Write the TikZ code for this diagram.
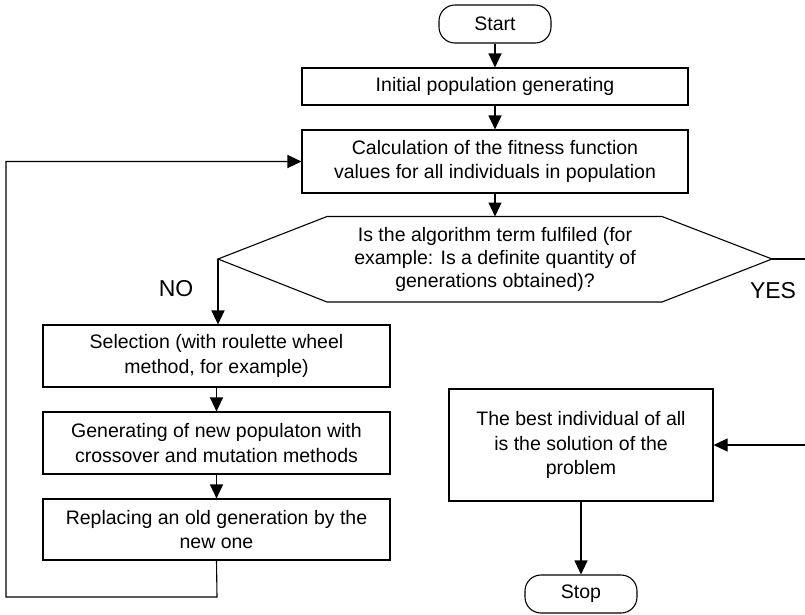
\documentclass[tikz,border=0pt]{standalone}
\usepackage{fontspec}
\setmainfont{Liberation Sans}
\usetikzlibrary{arrows.meta}
\begin{document}
\begin{tikzpicture}[x=1pt,y=-1pt,
  line width=1.1pt,
  every node/.style={font=\fontsize{19.5}{24.5}\selectfont, align=center, inner sep=0pt},
  box/.style={draw, rectangle, minimum width=#1},
  term/.style={draw, rectangle, rounded corners=16pt, minimum width=112pt, minimum height=38pt},
  arr/.style={-{Triangle[length=14pt,width=13pt]}},
  lbl/.style={font=\fontsize{23}{27}\selectfont}
]
\clip (0,0) rectangle (805,614);
\fill[white] (0,0) rectangle (805,614);

% nodes
\node[term] (start) at (495,24) {Start};
\node[box=386pt, minimum height=37pt] (init) at (495,86.5) {Initial population generating};
\node[box=386pt, minimum height=63pt] (calc) at (495,161.5) {Calculation of the fitness function\\values for all individuals in population};

% decision
\coordinate (dL) at (218,259);
\coordinate (dR) at (772,259);
\coordinate (dT) at (495,216.5);
\draw (dL) -- (327,216.5) -- (662,216.5) -- (dR) -- (662,302) -- (327,302) -- cycle;
\node[font=\fontsize{19.5}{23}\selectfont] (dec) at (495,259) {Is the algorithm term fulfiled (for\\example: Is a definite quantity of\\generations obtained)?};

\node[box=347pt, minimum height=62pt] (sel) at (216.5,356) {Selection (with roulette wheel\\method, for example)};
\node[box=347pt, minimum height=62pt] (gen) at (216.5,443) {Generating of new populaton with\\crossover and mutation methods};
\node[box=347pt, minimum height=61pt] (repl) at (216.5,529.5) {Replacing an old generation by the\\new one};

\node[box=264pt, minimum height=112pt] (best) at (581,445) {The best individual of all\\is the solution of the\\problem};
\node[term] (stop) at (581,594) {Stop};

\node[lbl] (no) at (176,289) {NO};
\node[lbl] (yes) at (773,291) {YES};

% connectors
\coordinate (loopA) at (217,597);
\coordinate (loopB) at (6,597);
\coordinate (loopC) at (6,161.5);
\coordinate (yesA) at (812,259);
\coordinate (yesB) at (812,445);

\draw[arr] (start) -- (init);
\draw[arr] (init) -- (calc);
\draw[arr] (calc) -- (dT);
\draw[arr] (dL) -- (dL |- sel.north);
\draw[arr] (sel) -- (gen);
\draw[arr] (gen) -- (repl);
\draw[arr] (repl.south) -- (loopA) -- (loopB) -- (loopC) -- (calc.west);
\draw[arr] (dR) -- (yesA) -- (yesB) -- (best.east);
\draw[arr] (best) -- (stop);
\end{tikzpicture}
\end{document}
